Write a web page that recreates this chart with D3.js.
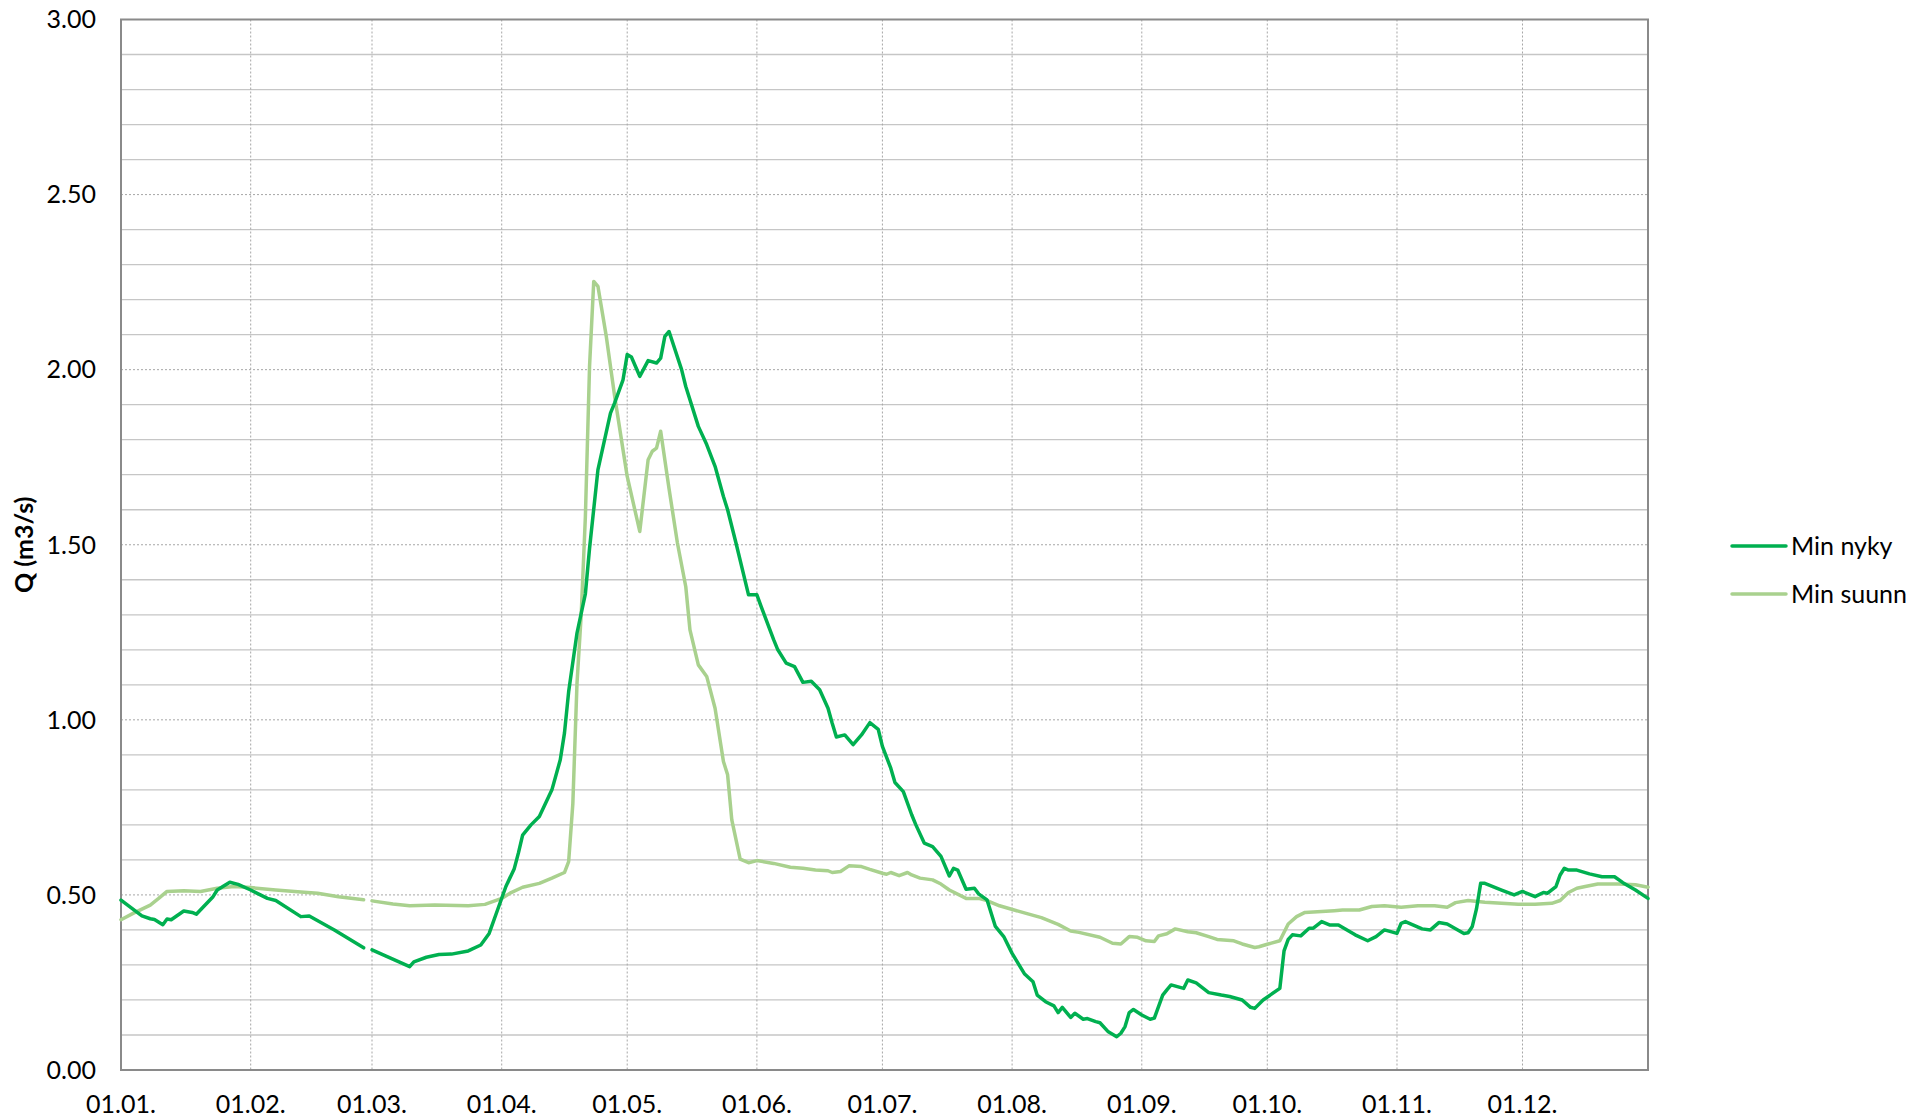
<!DOCTYPE html>
<html>
<head>
<meta charset="utf-8">
<script src="https://cdn.jsdelivr.net/npm/d3@7"></script>
<style>
body { margin: 0; background: #fff; }
text { font-family: Lato, "Open Sans", sans-serif; fill: #000; }
</style>
</head>
<body>
<script>
// day of year (2020, leap year) and flow values, day 59 = 29.02. has no value
var nykyDay = [0, 5, 7, 8, 10, 11, 12, 15, 17, 18, 22, 23, 26, 28, 31, 35, 37, 43, 45, 51, 58, 59,
    60, 69, 70, 73, 76, 79, 83, 86, 88, 90, 92, 94, 95, 96, 98, 100, 103, 105, 106, 107, 109, 111,
    112, 114, 117, 118, 120, 121, 122, 124, 126, 128, 129, 130, 131, 134, 135, 138, 140, 142, 144,
    145, 147, 150, 152, 153, 156, 157, 159, 161, 163, 165, 167, 169, 170, 171, 173, 175, 177, 179,
    181, 182, 184, 185, 187, 189, 190, 192, 194, 196, 198, 199, 200, 202, 204, 205, 207, 209, 211,
    213, 216, 218, 219, 221, 223, 224, 225, 227, 228, 230, 231, 233, 234, 236, 238, 239, 240, 241,
    242, 244, 246, 247, 249, 250, 251, 254, 255, 257, 260, 263, 265, 268, 270, 271, 273, 277, 278,
    279, 280, 282, 284, 285, 287, 289, 291, 295, 298, 300, 302, 305, 306, 307, 311, 313, 315, 317,
    321, 322, 323, 324, 325, 326, 330, 333, 335, 338, 340, 341, 343, 344, 345, 346, 348, 351, 354,
    357, 359, 362, 365];
var nykyQ = [0.485, 0.440, 0.432, 0.430, 0.415, 0.431, 0.429, 0.454, 0.450, 0.445, 0.495, 0.514,
    0.536, 0.530, 0.514, 0.490, 0.484, 0.438, 0.440, 0.400, 0.349, null,
    0.343, 0.295, 0.309, 0.322, 0.330, 0.331, 0.340, 0.357, 0.390, 0.457, 0.524, 0.575, 0.620,
    0.671, 0.700, 0.724, 0.800, 0.886, 0.962, 1.080, 1.248, 1.360,
    1.490, 1.714, 1.876, 1.905, 1.971, 2.043, 2.036, 1.981, 2.026, 2.019, 2.033, 2.095, 2.109,
    2.000, 1.952, 1.838, 1.786, 1.724, 1.638,
    1.600, 1.505, 1.357, 1.357, 1.324, 1.229, 1.200, 1.162, 1.152, 1.107, 1.110, 1.086, 1.033,
    0.990, 0.951, 0.957, 0.929, 0.957, 0.992,
    0.973, 0.924, 0.862, 0.821, 0.795, 0.729, 0.700, 0.648, 0.638, 0.610, 0.554, 0.576, 0.571,
    0.516, 0.519, 0.503, 0.486, 0.410, 0.381,
    0.333, 0.274, 0.252, 0.214, 0.195, 0.183, 0.164, 0.179, 0.150, 0.162, 0.145, 0.147, 0.138,
    0.135, 0.109, 0.095, 0.105, 0.124, 0.164,
    0.173, 0.157, 0.145, 0.148, 0.214, 0.229, 0.243, 0.233, 0.257, 0.249, 0.221, 0.214, 0.210,
    0.200, 0.179, 0.176, 0.200, 0.233, 0.340,
    0.373, 0.386, 0.383, 0.405, 0.405, 0.424, 0.414, 0.414, 0.386, 0.369, 0.381, 0.400, 0.390,
    0.419, 0.424, 0.403, 0.400, 0.421, 0.417,
    0.390, 0.392, 0.410, 0.460, 0.533, 0.533, 0.514, 0.500, 0.510, 0.495, 0.507, 0.505, 0.524,
    0.557, 0.576, 0.571, 0.571, 0.560, 0.552,
    0.552, 0.535, 0.514, 0.490];

var suunnDay = [0, 3, 7, 9, 11, 15, 19, 23, 27, 31, 37, 43, 47, 52, 58, 59,
    60, 65, 69, 75, 83, 87, 91, 93, 96, 100, 103, 106, 107, 108, 109, 110, 111, 112, 113, 114,
    116, 118, 120, 121, 124, 126, 127, 128, 129, 131, 133, 135, 136, 138, 140, 142, 144, 145,
    146, 148, 150, 152, 156, 160, 163, 166, 169, 170, 172, 174, 177, 179, 182, 183, 184, 186,
    188, 189, 191, 194, 196, 198, 202, 205, 207, 210, 217, 220, 224, 227, 229, 234, 237, 239,
    241, 243, 245, 247, 248, 250, 252, 255, 257, 260, 262, 266, 268, 271, 272, 274, 277, 279,
    281, 283, 286, 290, 292, 296, 299, 302, 306, 310, 314, 317, 319, 322, 326, 330, 334, 338,
    342, 344, 346, 348, 350, 353, 358, 362, 365];
var suunnQ = [0.429, 0.448, 0.471, 0.490, 0.510, 0.512, 0.510, 0.519, 0.524, 0.521, 0.514,
    0.508, 0.505, 0.495, 0.486, null,
    0.483, 0.474, 0.469, 0.471, 0.469, 0.473, 0.490, 0.505, 0.522, 0.533, 0.548, 0.564, 0.595,
    0.760, 1.105, 1.300, 1.580, 2.010, 2.252, 2.238,
    2.095, 1.924, 1.771, 1.695, 1.538, 1.743, 1.767, 1.776, 1.824, 1.660, 1.505, 1.380, 1.257,
    1.157, 1.124, 1.033, 0.881, 0.843,
    0.714, 0.602, 0.592, 0.598, 0.590, 0.579, 0.576, 0.571, 0.569, 0.564, 0.567, 0.583, 0.581,
    0.573, 0.562, 0.559, 0.564, 0.555,
    0.564, 0.557, 0.548, 0.543, 0.531, 0.514, 0.490, 0.490, 0.484, 0.469, 0.445, 0.435, 0.416,
    0.397, 0.393, 0.379, 0.362, 0.360,
    0.381, 0.379, 0.369, 0.367, 0.383, 0.389, 0.403, 0.395, 0.392, 0.381, 0.373, 0.369, 0.360,
    0.350, 0.352, 0.359, 0.369, 0.417,
    0.438, 0.450, 0.452, 0.455, 0.457, 0.457, 0.467, 0.469, 0.465, 0.469, 0.469, 0.465, 0.478,
    0.484, 0.479, 0.476, 0.473, 0.473,
    0.476, 0.484, 0.507, 0.519, 0.524, 0.531, 0.531, 0.529, 0.522];

var yTicks = [0, 0.5, 1, 1.5, 2, 2.5, 3];
var seriesNames = ['Min nyky', 'Min suunn'];
var seriesColors = ['#00b050', '#a9d18e'];

var width = 1908,
    height = 1120;

var plotLeft = 121, plotRight = 1648, plotTop = 19.5, plotBottom = 1070;

var start = new Date(2020, 0, 1),
    end = new Date(2020, 11, 31);

var svg = d3.select('body')
    .append('svg')
    .attr('width', width)
    .attr('height', height);

var x = d3.scaleTime()
    .domain([start, end])
    .range([plotLeft, plotRight]);

var y = d3.scaleLinear()
    .domain([0, 3])
    .range([plotBottom, plotTop]);

function toSeries(days, values) {
    return days.map((d, i) => ({date: d3.timeDay.offset(start, d), q: values[i]}));
}

var series = [toSeries(nykyDay, nykyQ), toSeries(suunnDay, suunnQ)];

// minor gridlines every 0.1, solid
var minor = d3.range(1, 30).filter(i => i % 5 !== 0).map(i => i / 10);
svg.append('g')
    .selectAll('line')
    .data(minor).enter()
    .append('line')
    .attr('x1', plotLeft).attr('x2', plotRight)
    .attr('y1', d => y(d)).attr('y2', d => y(d))
    .style('stroke', '#c6c6c6')
    .style('stroke-width', 1.3);

// major gridlines, dotted
svg.append('g')
    .selectAll('line')
    .data(yTicks.filter(d => d > 0 && d < 3)).enter()
    .append('line')
    .attr('x1', plotLeft).attr('x2', plotRight)
    .attr('y1', d => y(d)).attr('y2', d => y(d))
    .style('stroke', '#a6a6a6')
    .style('stroke-width', 1)
    .style('stroke-dasharray', '2,2');

var months = d3.timeMonth.range(start, d3.timeDay.offset(end, 1));

svg.append('g')
    .selectAll('line')
    .data(months.slice(1)).enter()
    .append('line')
    .attr('x1', d => x(d)).attr('x2', d => x(d))
    .attr('y1', plotTop).attr('y2', plotBottom)
    .style('stroke', '#a6a6a6')
    .style('stroke-width', 1)
    .style('stroke-dasharray', '2,2');

// plot frame
svg.append('rect')
    .attr('x', plotLeft).attr('y', plotTop)
    .attr('width', plotRight - plotLeft).attr('height', plotBottom - plotTop)
    .style('fill', 'none')
    .style('stroke', '#8a8a8a')
    .style('stroke-width', 2);

var line = d3.line()
    .defined(d => d.q !== null)
    .x(d => x(d.date))
    .y(d => y(d.q));

svg.append('g')
    .selectAll('path')
    .data([series[1], series[0]]).enter()
    .append('path')
    .attr('d', line)
    .style('fill', 'none')
    .style('stroke', (d, i) => i === 0 ? seriesColors[1] : seriesColors[0])
    .style('stroke-width', 3.5)
    .style('stroke-linejoin', 'round')
    .style('stroke-linecap', 'round');

// axes labels
var fmt = d3.format('.2f');
svg.append('g')
    .selectAll('text')
    .data(yTicks).enter()
    .append('text')
    .attr('x', 96)
    .attr('y', d => y(d))
    .attr('dy', '0.35em')
    .attr('text-anchor', 'end')
    .style('font-size', '25px')
    .text(d => fmt(d));

var monthFmt = d3.timeFormat('%d.%m.');
svg.append('g')
    .selectAll('text')
    .data(months).enter()
    .append('text')
    .attr('x', d => x(d))
    .attr('y', 1113)
    .attr('text-anchor', 'middle')
    .style('font-size', '25px')
    .text(d => monthFmt(d));

svg.append('text')
    .attr('transform', 'translate(33,' + ((plotTop + plotBottom) / 2) + ') rotate(-90)')
    .attr('text-anchor', 'middle')
    .style('font-size', '25px')
    .style('font-weight', 'bold')
    .text('Q (m3/s)');

// legend
var legend = svg.append('g')
    .selectAll('g')
    .data(seriesNames).enter()
    .append('g')
    .attr('transform', (d, i) => 'translate(1732,' + (546 + i * 48) + ')');

legend.append('line')
    .attr('x1', 0).attr('x2', 54)
    .style('stroke', (d, i) => seriesColors[i])
    .style('stroke-width', 3.5)
    .style('stroke-linecap', 'round');

legend.append('text')
    .attr('x', 59)
    .attr('dy', '0.35em')
    .style('font-size', '25px')
    .text(d => d);
</script>
</body>
</html>
